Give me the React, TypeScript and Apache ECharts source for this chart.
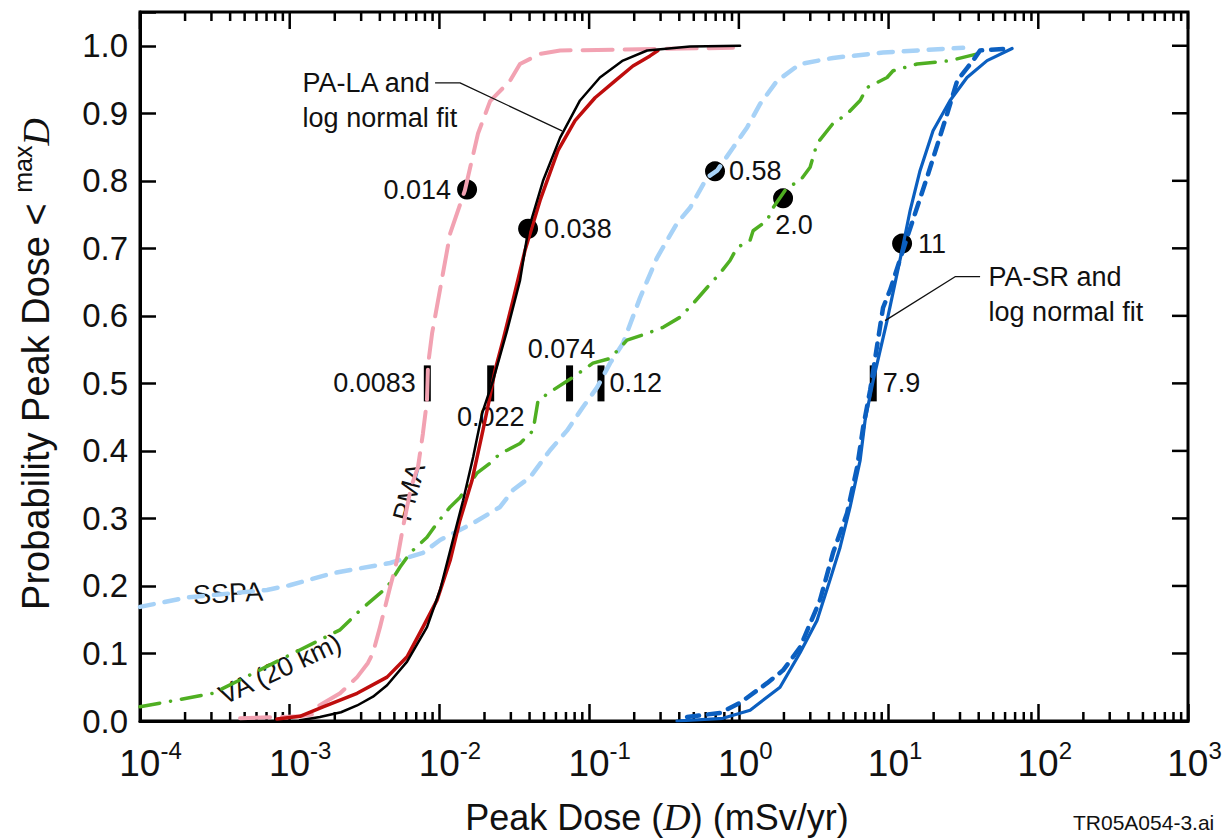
import React, { useEffect, useRef } from 'react';
import * as echarts from 'echarts';

const FONT = '"Liberation Sans", Arial, Helvetica, sans-serif';
const SERIF = '"Liberation Serif", "DejaVu Serif", "Times New Roman", serif';

// ---- axes ----
const yTickValues = [0, 0.1, 0.2, 0.3, 0.4, 0.5, 0.6, 0.7, 0.8, 0.9, 1.0];
const decadeExponents = [-4, -3, -2, -1, 0, 1, 2, 3];
const minorMultipliers = [2, 3, 4, 5, 6, 7, 8, 9];

// ---- curves: [peak dose (mSv/yr), probability] ----
const pmaCurve: [number, number][] = [
  [4.66e-4, 0.004], [1.17e-3, 0.007], [1.43e-3, 0.010], [1.55e-3, 0.022], [2.17e-3, 0.041],
  [2.82e-3, 0.065], [3.33e-3, 0.086], [3.60e-3, 0.101], [4.01e-3, 0.139], [4.68e-3, 0.198],
  [5.21e-3, 0.238], [5.71e-3, 0.287], [6.46e-3, 0.346], [7.19e-3, 0.376], [7.76e-3, 0.426],
  [8.26e-3, 0.475], [8.39e-3, 0.527], [8.93e-3, 0.574], [0.0118, 0.722], [0.0148, 0.786],
  [0.0181, 0.87], [0.0218, 0.918], [0.0296, 0.948], [0.0345, 0.973], [0.047, 0.988],
  [0.064, 0.993], [0.914, 0.997],
];

const palaCurve: [number, number][] = [
  [8.22e-4, 0.003], [1.17e-3, 0.007], [1.67e-3, 0.021], [2.82e-3, 0.041], [4.47e-3, 0.065],
  [6.08e-3, 0.095], [7.76e-3, 0.139], [9.64e-3, 0.179], [0.0118, 0.238], [0.0137, 0.297],
  [0.0165, 0.356], [0.0195, 0.43], [0.0215, 0.475], [0.0235, 0.519], [0.0266, 0.564],
  [0.031, 0.623], [0.0373, 0.697], [0.047, 0.771], [0.062, 0.845], [0.0805, 0.889],
  [0.1095, 0.923], [0.149, 0.948], [0.196, 0.970], [0.255, 0.985], [0.288, 0.993],
];

const palaFit: [number, number][] = [
  [1.17e-3, 0.001], [1.59e-3, 0.006], [2.2e-3, 0.013], [2.82e-3, 0.023], [3.6e-3, 0.036],
  [4.47e-3, 0.053], [6.08e-3, 0.088], [8.26e-3, 0.139], [0.0101, 0.194], [0.0123, 0.268],
  [0.0144, 0.327], [0.0168, 0.391], [0.0193, 0.456], [0.0228, 0.504], [0.0283, 0.578],
  [0.0345, 0.652], [0.0391, 0.726], [0.0492, 0.80], [0.064, 0.864], [0.0869, 0.919],
  [0.118, 0.953], [0.168, 0.978], [0.244, 0.993], [0.472, 0.999], [1.019, 1.0],
];

const sspaCurve: [number, number][] = [
  [1e-4, 0.169], [2.06e-4, 0.183], [7.05e-4, 0.194], [1.0e-3, 0.201], [1.95e-3, 0.219],
  [4.68e-3, 0.234], [7.76e-3, 0.249], [0.0101, 0.268], [0.0168, 0.293], [0.0254, 0.317],
  [0.031, 0.342], [0.0403, 0.361], [0.0548, 0.401], [0.0711, 0.43], [0.091, 0.465],
  [0.113, 0.494], [0.138, 0.53], [0.168, 0.559], [0.219, 0.627], [0.284, 0.686],
  [0.386, 0.737], [0.472, 0.76], [0.614, 0.805], [0.715, 0.815], [0.914, 0.849],
  [1.135, 0.879], [1.387, 0.914], [1.799, 0.948], [2.564, 0.973], [4.256, 0.982],
  [9.183, 0.99], [31.48, 0.997],
];

const vaCurve: [number, number][] = [
  [1e-4, 0.021], [3.08e-4, 0.041], [2.17e-3, 0.135], [2.95e-3, 0.164], [4.47e-3, 0.198],
  [5.46e-3, 0.228], [6.37e-3, 0.249], [8.26e-3, 0.272], [9.64e-3, 0.293], [0.0118, 0.317],
  [0.0137, 0.331], [0.016, 0.352], [0.0178, 0.367], [0.0218, 0.382], [0.0254, 0.396],
  [0.0283, 0.401], [0.0345, 0.411], [0.0422, 0.43], [0.0456, 0.475], [0.0574, 0.49],
  [0.078, 0.509], [0.106, 0.53], [0.138, 0.537], [0.179, 0.564], [0.244, 0.574],
  [0.312, 0.583], [0.405, 0.598], [0.494, 0.618], [0.614, 0.642], [0.748, 0.663],
  [0.873, 0.682], [0.973, 0.701], [1.189, 0.712], [1.245, 0.726], [1.542, 0.741],
  [1.69, 0.76], [2.099, 0.79], [2.564, 0.80], [2.992, 0.82], [3.327, 0.855],
  [4.256, 0.885], [5.284, 0.899], [6.457, 0.919], [7.178, 0.938], [9.772, 0.953],
  [10.72, 0.963], [15.49, 0.973], [25.76, 0.978], [42.76, 0.99],
];

const pasrFit: [number, number][] = [
  [0.386, 0.0], [0.783, 0.004], [1.189, 0.016], [1.884, 0.05], [2.564, 0.101],
  [3.327, 0.149], [4.064, 0.209], [4.742, 0.257], [5.534, 0.317], [6.457, 0.386],
  [6.966, 0.445], [7.889, 0.504], [9.772, 0.593], [12.3, 0.697], [13.93, 0.756],
  [16.22, 0.815], [19.82, 0.874], [25.76, 0.919], [33.42, 0.953], [45.5, 0.978],
  [66.83, 0.996],
];

const pasrCurve: [number, number][] = [
  [0.451, 0.006], [0.748, 0.012], [1.019, 0.027], [1.542, 0.056], [1.972, 0.075],
  [2.564, 0.109], [3.483, 0.179], [4.256, 0.249], [5.284, 0.308], [6.166, 0.376],
  [6.761, 0.435], [7.534, 0.49], [9.183, 0.612], [10.23, 0.638], [13.3, 0.716],
  [18.07, 0.805], [24.6, 0.899], [28.71, 0.948], [33.42, 0.967], [36.64, 0.978],
  [40.83, 0.993], [66.83, 0.996],
];

// ---- markers ----
const meanDose = [0.0153, 0.0391, 0.693, 1.974, 12.31];
const meanProb = [0.787, 0.729, 0.814, 0.774, 0.707];
const meanText = ['0.014', '0.038', '0.58', '2.0', '11'];

const medianDose = [0.0083, 0.022, 0.074, 0.12, 7.9];
const medianProb = [0.5, 0.5, 0.5, 0.5, 0.5];
const medianText = ['0.0083', '0.022', '0.074', '0.12', '7.9'];

// ---- leader lines ----
const palaLeader: [number, number][] = [[0.00935, 0.945], [0.01373, 0.945], [0.0659, 0.874]];
const pasrLeader: [number, number][] = [[40.86, 0.658], [27.81, 0.658], [9.48, 0.593]];

// ---- annotation texts (anchor dose, prob) ----
const noteText = ['PA-LA and\nlog normal fit', 'PA-SR and\nlog normal fit', 'SSPA', 'VA (20 km)', 'PMA'];
const noteDose = [1.21e-3, 46.2, 3.87e-4, 8.61e-4, 6.27e-3];
const noteProb = [0.919, 0.632, 0.189, 0.077, 0.339];

const meanLabelStyle: any[] = [
  { position: 'left', distance: 6 },
  { position: 'right', distance: 6 },
  { position: 'right', distance: 4 },
  { position: 'bottom', distance: 3, offset: [11, 0] },
  { position: 'right', distance: 6 },
];
const medianLabelStyle: any[] = [
  { position: 'left', distance: 8 },
  { position: 'bottom', distance: 2 },
  { position: 'top', distance: 3, offset: [-8, 0] },
  { position: 'right', distance: 5 },
  { position: 'right', distance: 6 },
];
const noteLabelStyle: any[] = [
  { position: 'right', distance: 0, align: 'left', lineHeight: 35 },
  { position: 'right', distance: 0, align: 'left', lineHeight: 35 },
  { position: 'inside', rotate: 3, backgroundColor: '#fff', padding: [0, 3] },
  { position: 'inside', rotate: 25, backgroundColor: '#fff', padding: [0, 3] },
  { position: 'inside', rotate: 75, backgroundColor: '#fff', padding: [0, 3] },
];

const X_MIN = 1e-4;
const X_MAX = 1e3;
const Y_MAX = 1.05;

function buildOption(): any {
  const minorValues: number[] = [];
  decadeExponents.slice(0, -1).forEach((e) =>
    minorMultipliers.forEach((m) => minorValues.push(m * Math.pow(10, e)))
  );

  const lineSeries = (data: [number, number][], color: string, width: number, dash: any) => ({
    type: 'line', data, showSymbol: false, symbol: 'none',
    lineStyle: { color, width, type: dash, cap: 'round', join: 'round' },
  });

  return {
    animation: false,
    grid: { left: 140, top: 12, width: 1048, height: 709 },
    xAxis: {
      type: 'log', logBase: 10, min: X_MIN, max: X_MAX,
      axisLine: { show: true, onZero: false, lineStyle: { color: '#000', width: 3 } },
      axisTick: { show: true, inside: true, length: 17, lineStyle: { color: '#000', width: 2.5 } },
      minorTick: { show: false },
      splitLine: { show: false },
      axisLabel: {
        show: true, margin: 17, color: '#111', fontFamily: FONT,
        formatter: (v: number) => {
          const e = Math.round(Math.log10(v));
          return `{${e < 0 ? 'padN' : 'padP'}| }{b|10}{s|${e}}`;
        },
        rich: {
          b: { fontSize: 37, fontFamily: FONT, color: '#111', lineHeight: 50 },
          s: { fontSize: 24, fontFamily: FONT, color: '#111', lineHeight: 24, verticalAlign: 'top' },
          padN: { width: 21, fontSize: 10 },
          padP: { width: 13, fontSize: 10 },
        },
      },
    },
    yAxis: {
      type: 'value', min: 0, max: Y_MAX, interval: 0.1,
      axisLine: { show: true, onZero: false, lineStyle: { color: '#000', width: 3 } },
      axisTick: { show: true, inside: true, length: 16, lineStyle: { color: '#000', width: 2.5 } },
      axisLabel: {
        show: true, margin: 12, fontSize: 33, fontFamily: FONT, color: '#111',
        formatter: (v: number) => (v > 1.001 ? '' : v.toFixed(1)),
      },
      splitLine: { show: false },
    },
    series: [
      lineSeries(sspaCurve, '#A7D2F7', 4.5, [14, 11]),
      lineSeries(vaCurve, '#4FAF22', 3.5, [20, 11, 0.1, 11]),
      lineSeries(pmaCurve, '#F2A2B2', 4, [30, 12]),
      lineSeries(palaCurve, '#BE0D0D', 3.5, 'solid'),
      lineSeries(palaFit, '#000000', 2.5, 'solid'),
      lineSeries(pasrCurve, '#0B5FC0', 4.5, [12, 9]),
      lineSeries(pasrFit, '#0B5FC0', 3.2, 'solid'),
      {
        type: 'line', data: palaLeader, showSymbol: false, symbol: 'none',
        lineStyle: { color: '#111', width: 1.3 },
      },
      {
        type: 'line', data: pasrLeader, showSymbol: false, symbol: 'none',
        lineStyle: { color: '#111', width: 1.3 },
      },
      {
        type: 'scatter', symbol: 'rect', symbolSize: [7, 36],
        itemStyle: { color: '#000', opacity: 1 },
        label: { show: true, fontFamily: FONT, fontSize: 27, color: '#111' },
        data: medianDose.map((d, i) => ({
          value: [d, medianProb[i]],
          label: { show: true, formatter: medianText[i], ...medianLabelStyle[i] },
        })),
        markLine: {
          silent: true, symbol: 'none', animation: false, label: { show: false },
          lineStyle: { color: '#000', width: 2.5, type: 'solid' },
          data: [
            ...yTickValues.map((v) => [
              { coord: [X_MAX, v], x: 1188, y: undefined },
              { coord: [X_MAX, v] },
            ]),
          ].slice(0, 0),
        },
      },
      {
        type: 'scatter', symbol: 'circle', symbolSize: 20,
        itemStyle: { color: '#000', opacity: 1 },
        label: { show: true, fontFamily: FONT, fontSize: 27, color: '#111' },
        data: meanDose.map((d, i) => ({
          value: [d, meanProb[i]],
          label: { show: true, formatter: meanText[i], ...meanLabelStyle[i] },
        })),
      },
      {
        type: 'scatter', symbol: 'circle', symbolSize: 1,
        itemStyle: { color: '#fff', opacity: 1 },
        label: { show: true, fontFamily: FONT, fontSize: 27, color: '#111' },
        data: noteDose.map((d, i) => ({
          value: [d, noteProb[i]],
          label: { show: true, formatter: noteText[i], ...noteLabelStyle[i] },
        })),
      },
      {
        // minor ticks (bottom and top) and the mirrored ticks on the top and right borders
        type: 'custom',
        renderItem: (params: any, api: any) => {
          const kind = api.value(2);
          const cs = params.coordSys;
          const left = cs.x, right = cs.x + cs.width, top = cs.y, bottom = cs.y + cs.height;
          const style = { stroke: '#000', lineWidth: 2.5 };
          if (kind === 2) {
            const y = api.coord([1, api.value(1)])[1];
            return { type: 'line', shape: { x1: right, y1: y, x2: right - 16, y2: y }, style };
          }
          const x = api.coord([api.value(0), 0.5])[0];
          const len = kind === 0 ? 17 : 9;
          const children: any[] = [{ type: 'line', shape: { x1: x, y1: top, x2: x, y2: top + len }, style }];
          if (kind === 1) children.push({ type: 'line', shape: { x1: x, y1: bottom, x2: x, y2: bottom - len }, style });
          return { type: 'group', children };
        },
        data: [
          ...decadeExponents.map((e) => [Math.pow(10, e), 0.5, 0]),
          ...minorValues.map((v) => [v, 0.5, 1]),
          ...yTickValues.map((v) => [1, v, 2]),
        ],
      },
    ],
    graphic: [
      {
        type: 'rect', shape: { x: 140, y: 12, width: 1048, height: 709 }, silent: true, z: -1,
        style: { fill: 'none', stroke: '#000', lineWidth: 3 },
      },
      {
        type: 'text', x: 36, y: 364, rotation: Math.PI / 2, silent: true,
        style: {
          text: 'Probability Peak Dose < {sup|max}{it|D}',
          fontFamily: FONT, fontSize: 38, fill: '#111', lineHeight: 52,
          align: 'center', verticalAlign: 'middle',
          rich: {
            sup: { fontFamily: FONT, fontSize: 25, fill: '#111', lineHeight: 25, verticalAlign: 'top' },
            it: { fontFamily: SERIF, fontSize: 38, fontStyle: 'italic', fill: '#111', lineHeight: 52 },
          },
        },
      },
      {
        type: 'text', x: 657, y: 817, silent: true,
        style: {
          text: 'Peak Dose ({it|D}) (mSv/yr)',
          fontFamily: FONT, fontSize: 36, fill: '#111', lineHeight: 44,
          align: 'center', verticalAlign: 'middle',
          rich: {
            it: { fontFamily: SERIF, fontSize: 38, fontStyle: 'italic', fill: '#111', lineHeight: 44 },
          },
        },
      },
      {
        type: 'text', x: 1073, y: 822, silent: true,
        style: {
          text: 'TR05A054-3.ai', fontFamily: FONT, fontSize: 21, fill: '#111',
          align: 'left', verticalAlign: 'middle',
        },
      },
    ],
  };
}

export default function App() {
  const ref = useRef<HTMLDivElement>(null);
  useEffect(() => {
    const chart = echarts.init(ref.current as HTMLDivElement, undefined, { renderer: 'svg' });
    chart.setOption(buildOption(), true);
    return () => chart.dispose();
  }, []);
  return <div ref={ref} style={{ position: 'absolute', left: 0, top: 0, width: 1227, height: 838 }} />;
}
